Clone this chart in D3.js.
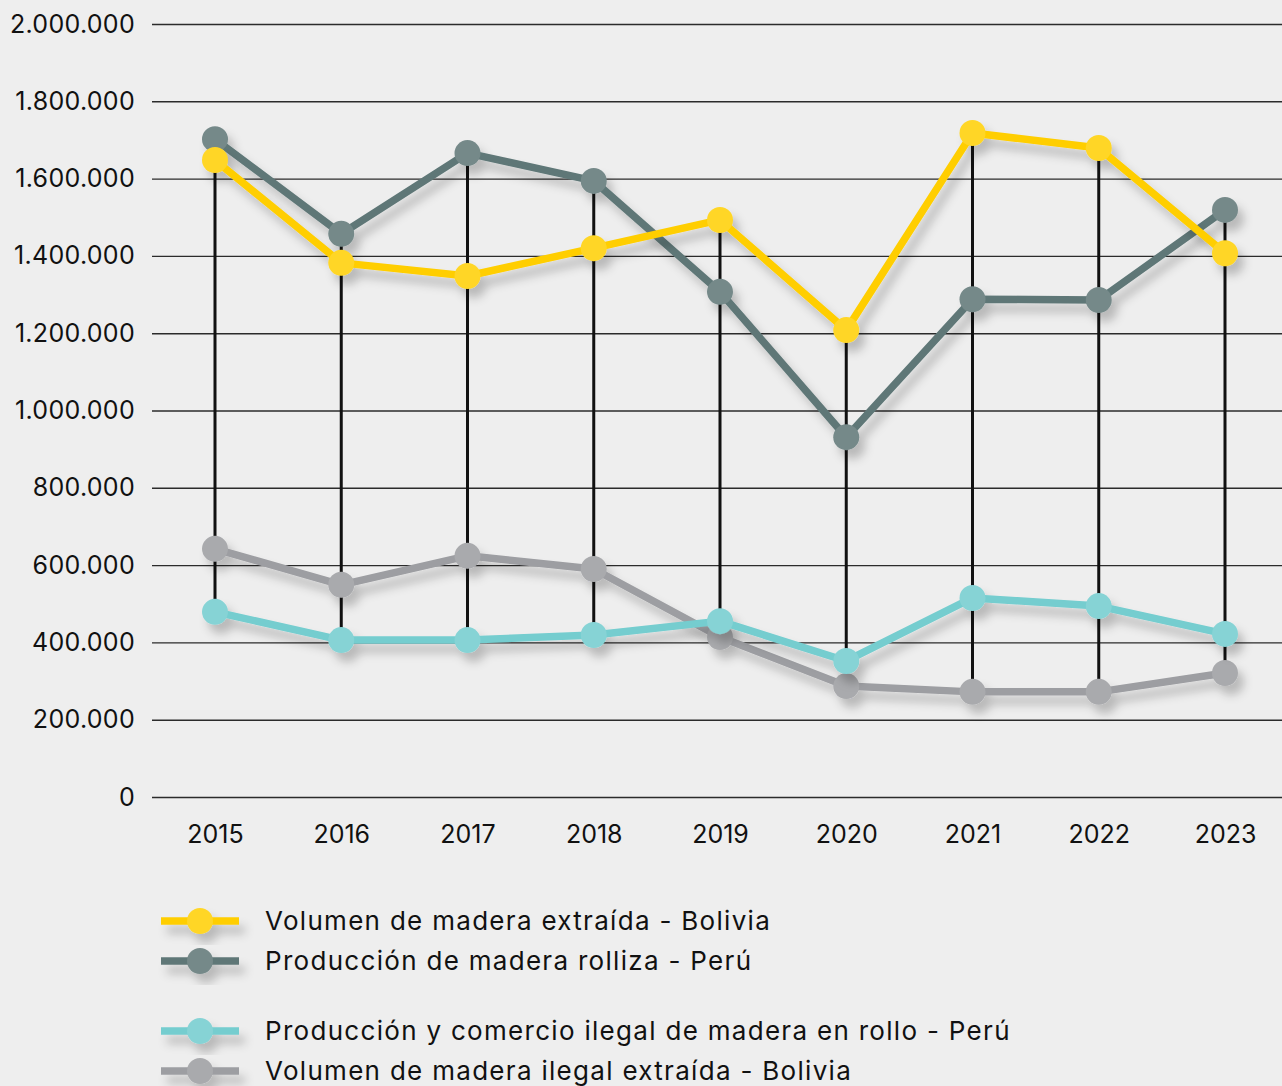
<!DOCTYPE html>
<html>
<head>
<meta charset="utf-8">
<script src="https://cdn.jsdelivr.net/npm/d3@7"></script>
<style>
  body { margin: 0; background: #eeeeee; }
  svg { display: block; font-family: Inter, "Open Sans", sans-serif; }
</style>
</head>
<body>
<svg width="1282" height="1086"></svg>
<script>
//data
var years = ["2015", "2016", "2017", "2018", "2019", "2020", "2021", "2022", "2023"];
var boliviaExtraida = [1648000, 1382000, 1348000, 1420000, 1493000, 1208000, 1718000, 1679000, 1407000];
var peruRolliza = [1702000, 1457000, 1666000, 1594000, 1307000, 931000, 1288000, 1286000, 1519000];
var peruIlegal = [479000, 406000, 406000, 419000, 455000, 352000, 515000, 494000, 422000];
var boliviaIlegal = [642000, 549000, 624000, 590000, 414000, 287000, 272000, 272000, 321000];
var yTicks = [0, 200000, 400000, 600000, 800000, 1000000, 1200000, 1400000, 1600000, 1800000, 2000000];

var seriesNames = [
    "Volumen de madera extraída - Bolivia",
    "Producción de madera rolliza - Perú",
    "Producción y comercio ilegal de madera en rollo - Perú",
    "Volumen de madera ilegal extraída - Bolivia"
];
var lineColors = ["#ffce00", "#5f7777", "#74cdcf", "#9d9ea2"];
var dotColors = ["#ffd626", "#758989", "#86d3d5", "#a9aaad"];
var allSeries = [boliviaExtraida, peruRolliza, peruIlegal, boliviaIlegal];

var svg = d3.select("svg");

//shadow filter
var defs = svg.append("defs");
var filter = defs.append("filter")
    .attr("id", "shadow")
    .attr("x", "-20%").attr("y", "-20%")
    .attr("width", "140%").attr("height", "160%");
filter.append("feDropShadow")
    .attr("dx", 6).attr("dy", 9)
    .attr("stdDeviation", 5)
    .attr("flood-color", "#000")
    .attr("flood-opacity", 0.22);

//scales
var x = d3.scalePoint().domain(years).range([215, 1225]);
var y = d3.scaleLinear().domain([0, 2000000]).range([797, 24]);

var locale = d3.formatLocale({ decimal: ",", thousands: ".", grouping: [3], currency: ["", ""] });
var fmt = locale.format(",");

//gridlines + y labels
var yAxis = svg.append("g")
    .attr("transform", "translate(152,0)")
    .call(d3.axisLeft(y).tickValues(yTicks).tickSize(-1140).tickPadding(17).tickFormat(fmt));
yAxis.select(".domain").remove();
yAxis.selectAll(".tick line").attr("stroke", "#2b2b2b").attr("stroke-width", 1.4);
yAxis.selectAll(".tick text")
    .attr("font-size", 25)
    .attr("font-family", "Inter, sans-serif")
    .attr("letter-spacing", 0.3)
    .attr("fill", "#111");

//x labels
var xAxis = svg.append("g")
    .attr("transform", "translate(0,797)")
    .call(d3.axisBottom(x).tickSize(0).tickPadding(28));
xAxis.select(".domain").remove();
xAxis.selectAll(".tick text")
    .attr("font-size", 25)
    .attr("font-family", "Inter, sans-serif")
    .attr("fill", "#111");

//high-low lines
svg.append("g").selectAll("line")
    .data(years)
    .enter()
    .append("line")
    .attr("x1", function (d) { return x(d); })
    .attr("x2", function (d) { return x(d); })
    .attr("y1", function (d, i) { return y(d3.max(allSeries, function (s) { return s[i]; })); })
    .attr("y2", function (d, i) { return y(d3.min(allSeries, function (s) { return s[i]; })); })
    .attr("stroke", "#111")
    .attr("stroke-width", 3);

//series lines
var line = d3.line()
    .x(function (d, i) { return x(years[i]); })
    .y(function (d) { return y(d); });

var drawOrder = [3, 2, 1, 0];
drawOrder.forEach(function (k) {
    var g = svg.append("g").attr("filter", "url(#shadow)");
    g.append("path")
        .attr("d", line(allSeries[k]))
        .attr("fill", "none")
        .attr("stroke", lineColors[k])
        .attr("stroke-width", 7.5)
        .attr("stroke-linejoin", "round");
    g.selectAll("circle")
        .data(allSeries[k])
        .enter()
        .append("circle")
        .attr("cx", function (d, i) { return x(years[i]); })
        .attr("cy", function (d) { return y(d); })
        .attr("r", 13)
        .attr("fill", dotColors[k]);
});

//legend
var legendY = [921, 961, 1031, 1071];
var legend = svg.append("g");
seriesNames.forEach(function (name, k) {
    var row = legend.append("g").attr("transform", "translate(0," + legendY[k] + ")");
    var sym = row.append("g").attr("filter", "url(#shadow)");
    sym.append("line")
        .attr("x1", 161).attr("x2", 239)
        .attr("stroke", lineColors[k])
        .attr("stroke-width", 7.5);
    sym.append("circle")
        .attr("cx", 200)
        .attr("r", 13)
        .attr("fill", dotColors[k]);
    row.append("text")
        .attr("x", 265)
        .attr("dy", "0.35em")
        .attr("font-size", 26)
        .attr("letter-spacing", 1.3)
        .attr("fill", "#111")
        .text(name);
});
</script>
</body>
</html>
